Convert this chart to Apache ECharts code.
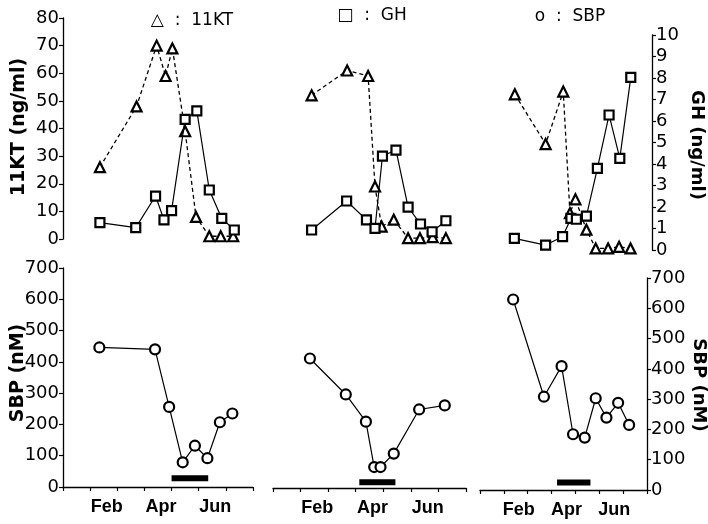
<!DOCTYPE html>
<html>
<head>
<meta charset="utf-8">
<script src="https://cdn.jsdelivr.net/npm/echarts@6/dist/echarts.min.js"></script>
<style>
  html, body { margin: 0; padding: 0; background: #fff; }
  #chart { width: 708px; height: 524px; }
</style>
</head>
<body>
<div id="chart"></div>
<script>
// Time is in months counted from 1 January (0 = Jan 1, 7 = Aug 1).
const monthLabels = ['', 'Feb', '', 'Apr', '', 'Jun', ''];

// Fish 1
const f1KtMonth  = [1.36, 2.71, 3.45, 3.78, 4.03, 4.50, 4.90, 5.39, 5.81, 6.27];
const f1Kt       = [26, 48, 70, 59, 69, 39, 8, 1, 1, 1];
const f1GhMonth  = [1.36, 2.68, 3.41, 3.72, 4.00, 4.50, 4.93, 5.39, 5.85, 6.31];
const f1Gh       = [1.27, 1.04, 2.51, 1.40, 1.83, 6.08, 6.47, 2.79, 1.47, 0.93];
const f1SbpMonth = [1.34, 3.39, 3.91, 4.41, 4.86, 5.32, 5.78, 6.24];
const f1Sbp      = [446, 440, 256, 79, 132, 92, 207, 235];

// Fish 2
const f2KtMonth  = [1.40, 2.69, 3.45, 3.70, 3.94, 4.38, 4.90, 5.33, 5.79, 6.27];
const f2Kt       = [52, 61, 59, 19, 4.5, 7, 0.3, 0.3, 0.7, 0.3];
const f2GhMonth  = [1.40, 2.67, 3.39, 3.70, 3.97, 4.46, 4.90, 5.35, 5.77, 6.27];
const f2Gh       = [0.93, 2.28, 1.40, 1.01, 4.37, 4.65, 1.99, 1.21, 0.85, 1.36];
const f2SbpMonth = [1.34, 2.64, 3.37, 3.67, 3.90, 4.38, 5.30, 6.23];
const f2Sbp      = [414, 299, 212, 67, 67, 110, 251, 264];

// Fish 3
const f3KtMonth  = [1.46, 2.75, 3.49, 3.77, 4.00, 4.46, 4.85, 5.37, 5.83, 6.31];
const f3Kt       = [56, 38, 57, 13, 18, 7, 0.2, 0.2, 0.8, 0.2];
const f3GhMonth  = [1.44, 2.75, 3.46, 3.81, 4.04, 4.46, 4.92, 5.41, 5.86, 6.32];
const f3Gh       = [0.54, 0.23, 0.62, 1.47, 1.43, 1.58, 3.80, 6.28, 4.26, 8.03];
const f3SbpMonth = [1.39, 2.68, 3.42, 3.90, 4.39, 4.85, 5.30, 5.79, 6.25];
const f3Sbp      = [629, 308, 409, 184, 173, 303, 239, 288, 215];

// Spawning period (start, end month) and the SBP level it is drawn at
const spawnPeriod = [[4.00, 5.35], [3.13, 4.44], [3.23, 4.63]];
const spawnLevel  = [28, 18, 25];

// Axis ranges and tick steps
const ktRange  = [0, 80, 10];
const ghRange  = [0, 10, 1];
const sbpRange = [0, 700, 100];

const pairs = (xs, ys) => xs.map((x, i) => [x, ys[i]]);

// Plot rectangles: per fish, an 11KT frame, a GH frame and an SBP frame
const frames = [
  { left: 63,  width: 190, top: 18,  height: 221 }, // 0 fish1 11KT
  { left: 63,  width: 190, top: 35,  height: 215 }, // 1 fish1 GH
  { left: 273, width: 193, top: 18,  height: 221 }, // 2 fish2 11KT
  { left: 273, width: 193, top: 35,  height: 215 }, // 3 fish2 GH
  { left: 480, width: 167, top: 28,  height: 221 }, // 4 fish3 11KT
  { left: 480, width: 167, top: 35,  height: 215 }, // 5 fish3 GH
  { left: 63,  width: 190, top: 268, height: 219 }, // 6 fish1 SBP
  { left: 273, width: 193, top: 269, height: 219 }, // 7 fish2 SBP
  { left: 480, width: 167, top: 278, height: 212 }  // 8 fish3 SBP
];

const BLACK = '#000';
const numFont = { fontFamily: 'DejaVu Sans', fontSize: 18, color: BLACK };

const grid = frames.map(f => Object.assign({ containLabel: false, outerBoundsMode: 'none' }, f));

// value x axes (months), visible only under the SBP frames
const xAxis = frames.map((f, i) => ({
  type: 'value', gridIndex: i, position: 'bottom', min: 0, max: 7, interval: 1,
  show: i >= 6,
  axisLine: { show: true, onZero: false, lineStyle: { color: BLACK, width: 1.3 } },
  axisTick: { show: true, inside: false, length: 4, lineStyle: { color: BLACK, width: 1.2 } },
  axisLabel: { show: false },
  splitLine: { show: false }
}));
// month names centred in their month interval
[6, 7, 8].forEach(g => xAxis.push({
  type: 'category', gridIndex: g, position: 'bottom', data: monthLabels, boundaryGap: true,
  axisLine: { show: false, onZero: false }, axisTick: { show: false }, splitLine: { show: false },
  axisLabel: {
    interval: 0, margin: 11, padding: [0, 0, 0, 6],
    fontFamily: 'Liberation Sans', fontWeight: 'bold', fontSize: 18, color: BLACK
  }
}));

function yAx(i, range, show, position, offset) {
  return {
    type: 'value', gridIndex: i, min: range[0], max: range[1], interval: range[2],
    show: show, position: position, offset: offset || 0,
    axisLine: { show: true, onZero: false, lineStyle: { color: BLACK, width: 1.3 } },
    axisTick: { show: true, inside: false, length: 4, lineStyle: { color: BLACK, width: 1.2 } },
    axisLabel: Object.assign({ margin: 4 }, numFont),
    splitLine: { show: false }
  };
}
const yAxis = [
  yAx(0, ktRange, true, 'left'),
  yAx(1, ghRange, false, 'right'),
  yAx(2, ktRange, false, 'left'),
  yAx(3, ghRange, false, 'right'),
  yAx(4, ktRange, false, 'left'),
  yAx(5, ghRange, true, 'right', 5),
  yAx(6, sbpRange, true, 'left'),
  yAx(7, sbpRange, false, 'left'),
  yAx(8, sbpRange, true, 'right')
];

const markerStyle = { color: '#fff', borderColor: BLACK, borderWidth: 2.2 };

function ktSeries(idx, xs, ys) {
  return {
    type: 'line', xAxisIndex: idx, yAxisIndex: idx, data: pairs(xs, ys),
    symbol: 'triangle', symbolSize: 10, showAllSymbol: true, z: 3,
    itemStyle: markerStyle,
    lineStyle: { color: BLACK, width: 1.3, type: [4, 3] }
  };
}
function ghSeries(idx, xs, ys) {
  return {
    type: 'line', xAxisIndex: idx, yAxisIndex: idx, data: pairs(xs, ys),
    symbol: 'rect', symbolSize: 9, showAllSymbol: true, z: 4,
    itemStyle: markerStyle,
    lineStyle: { color: BLACK, width: 1.2 }
  };
}
function sbpSeries(idx, xs, ys) {
  return {
    type: 'line', xAxisIndex: idx, yAxisIndex: idx, data: pairs(xs, ys),
    symbol: 'circle', symbolSize: 10, showAllSymbol: true, z: 4,
    itemStyle: markerStyle,
    lineStyle: { color: BLACK, width: 1.2 }
  };
}
function spawnSeries(idx, k) {
  return {
    type: 'line', xAxisIndex: idx, yAxisIndex: idx, silent: true, symbol: 'none',
    data: [[spawnPeriod[k][0], spawnLevel[k]], [spawnPeriod[k][1], spawnLevel[k]]],
    lineStyle: { color: BLACK, width: 6, cap: 'butt' }
  };
}

const series = [
  ktSeries(0, f1KtMonth, f1Kt), ghSeries(1, f1GhMonth, f1Gh),
  ktSeries(2, f2KtMonth, f2Kt), ghSeries(3, f2GhMonth, f2Gh),
  ktSeries(4, f3KtMonth, f3Kt), ghSeries(5, f3GhMonth, f3Gh),
  sbpSeries(6, f1SbpMonth, f1Sbp), sbpSeries(7, f2SbpMonth, f2Sbp), sbpSeries(8, f3SbpMonth, f3Sbp),
  spawnSeries(6, 0), spawnSeries(7, 1), spawnSeries(8, 2)
];

function label(text, x, y, opts) {
  opts = opts || {};
  return {
    type: 'text', x: x, y: y, rotation: opts.rotation || 0, z: 10,
    style: {
      text: text, x: 0, y: 0, align: 'center', verticalAlign: 'middle',
      fill: BLACK, fontFamily: opts.font || 'DejaVu Sans',
      fontSize: opts.size || 17, fontWeight: opts.weight || 'normal'
    }
  };
}

const graphic = [
  label('△  :  11KT', 192, 21),
  label('□  :  GH', 372, 16),
  label('o  :  SBP', 570, 17),
  label('11KT (ng/ml)', 19, 127, { rotation: Math.PI / 2, size: 19, weight: 'bold' }),
  label('SBP (nM)', 18, 373, { rotation: Math.PI / 2, size: 19, weight: 'bold' }),
  label('GH (ng/ml)', 697, 145, { rotation: -Math.PI / 2, size: 18, weight: 'bold' }),
  label('SBP (nM)', 699, 385, { rotation: -Math.PI / 2, size: 18, weight: 'bold' })
];

const chart = echarts.init(document.getElementById('chart'), null, { renderer: 'canvas' });
chart.setOption({
  animation: false,
  backgroundColor: '#fff',
  grid: grid,
  xAxis: xAxis,
  yAxis: yAxis,
  series: series,
  graphic: graphic
});
</script>
</body>
</html>
